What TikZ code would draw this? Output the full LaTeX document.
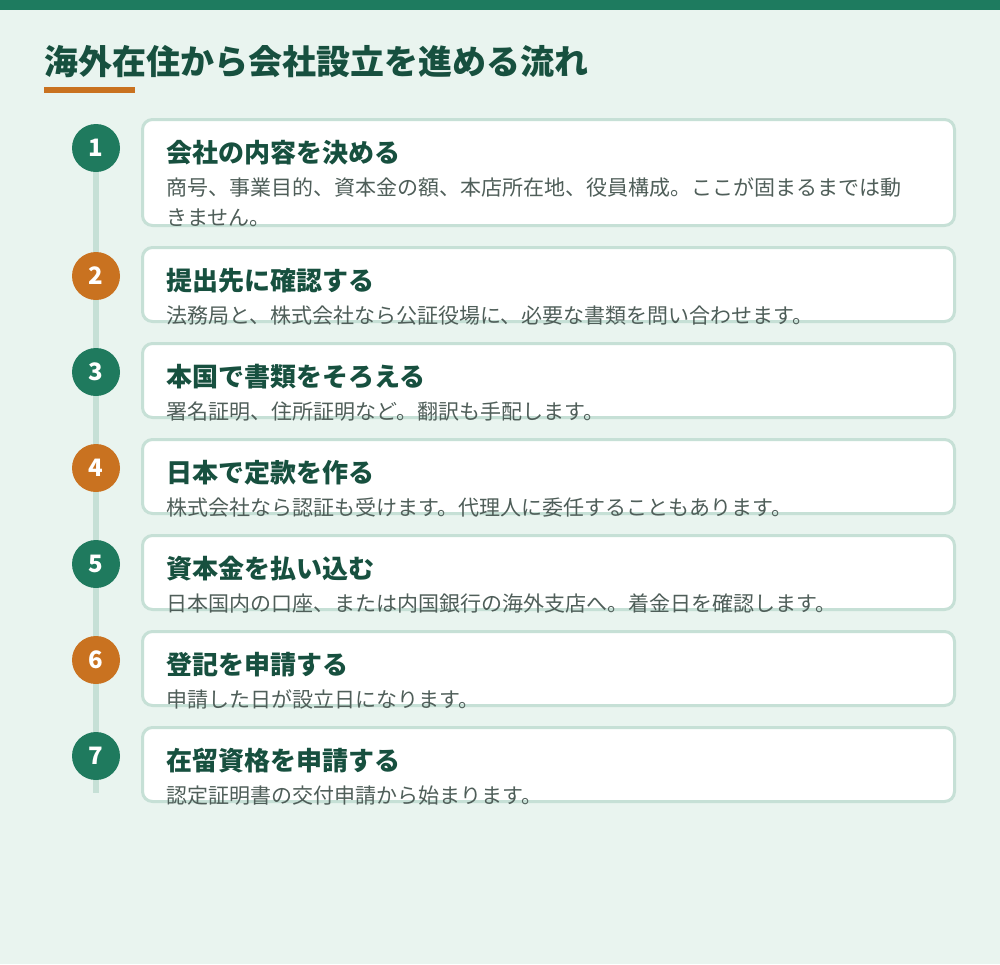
\documentclass[tikz,border=0pt]{standalone}
\usepackage{fontspec}
\setmainfont{Noto Sans CJK JP}
\definecolor{topbar}{HTML}{1E7B5F}
\definecolor{bgc}{HTML}{E9F4EF}
\definecolor{headc}{HTML}{17503F}
\definecolor{orangec}{HTML}{C97220}
\definecolor{greenc}{HTML}{1F7A5E}
\definecolor{borderc}{HTML}{C6E0D6}
\definecolor{bodyc}{HTML}{4F5E59}
\begin{document}
\begin{tikzpicture}[x=1pt,y=-1pt,
  numdot/.style={circle, minimum size=48pt, inner sep=0pt, font=\bfseries\fontsize{24}{24}\selectfont, text=white},
  card/.style={draw=borderc, line width=3pt, fill=white, rounded corners=10pt, minimum width=812pt, inner sep=0pt},
  ctitle/.style={anchor=base west, inner sep=0pt, font=\bfseries\fontsize{26}{30}\selectfont, text=headc},
  cbody/.style={anchor=base west, inner sep=0pt, font=\fontsize{21}{30}\selectfont, text=bodyc},
  railline/.style={draw=borderc, line width=6pt},
]
\useasboundingbox (0,0) rectangle (1000,964);
\fill[bgc] (0,0) rectangle (1000,964);
\fill[topbar] (0,0) rectangle (1000,10);
\node[anchor=base west, inner sep=0pt, font=\bfseries\fontsize{34}{40}\selectfont, text=headc] (title) at (44,74) {海外在住から会社設立を進める流れ};
\fill[orangec] (44,87) rectangle (135,93);

% rail
\coordinate (p1) at (96,148);
\coordinate (pend) at (96,793);
\draw[railline] (p1) -- (pend);

% circles
\node[numdot, fill=greenc]  (c1) at (96,148) {1};
\node[numdot, fill=orangec] (c2) at (96,276) {2};
\node[numdot, fill=greenc]  (c3) at (96,372) {3};
\node[numdot, fill=orangec] (c4) at (96,468) {4};
\node[numdot, fill=greenc]  (c5) at (96,564) {5};
\node[numdot, fill=orangec] (c6) at (96,660) {6};
\node[numdot, fill=greenc]  (c7) at (96,756) {7};

% cards
\node[card, minimum height=106pt] (k1) at (548.5,172.5) {};
\node[card, minimum height=74pt] (k2) at (548.5,284.5) {};
\node[card, minimum height=74pt] (k3) at (548.5,380.5) {};
\node[card, minimum height=74pt] (k4) at (548.5,476.5) {};
\node[card, minimum height=74pt] (k5) at (548.5,572.5) {};
\node[card, minimum height=74pt] (k6) at (548.5,668.5) {};
\node[card, minimum height=74pt] (k7) at (548.5,764.5) {};

% texts
\node[ctitle] (t1) at (166,162) {会社の内容を決める};
\node[cbody] (b1) at (166,195) {商号、事業目的、資本金の額、本店所在地、役員構成。ここが固まるまでは動};
\node[cbody] (b1x) at (166,225) {きません。};

\node[ctitle] (t2) at (166,290) {提出先に確認する};
\node[cbody] (b2) at (166,323) {法務局と、株式会社なら公証役場に、必要な書類を問い合わせます。};

\node[ctitle] (t3) at (166,386) {本国で書類をそろえる};
\node[cbody] (b3) at (166,419) {署名証明、住所証明など。翻訳も手配します。};

\node[ctitle] (t4) at (166,482) {日本で定款を作る};
\node[cbody] (b4) at (166,515) {株式会社なら認証も受けます。代理人に委任することもあります。};

\node[ctitle] (t5) at (166,578) {資本金を払い込む};
\node[cbody] (b5) at (166,611) {日本国内の口座、または内国銀行の海外支店へ。着金日を確認します。};

\node[ctitle] (t6) at (166,674) {登記を申請する};
\node[cbody] (b6) at (166,707) {申請した日が設立日になります。};

\node[ctitle] (t7) at (166,770) {在留資格を申請する};
\node[cbody] (b7) at (166,803) {認定証明書の交付申請から始まります。};
\end{tikzpicture}
\end{document}
